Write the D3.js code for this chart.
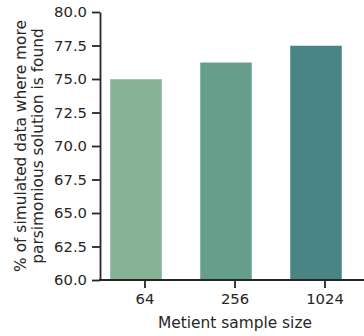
<!DOCTYPE html>
<html lang="en">
<head>
<meta charset="UTF-8">
<title>Metient sample size</title>
<script src="https://cdnjs.cloudflare.com/ajax/libs/d3/7.8.5/d3.min.js"></script>
<style>
body { margin: 0; background: #fff; }
text { font-family: "DejaVu Sans", sans-serif; fill: #262626; }
</style>
</head>
<body>
<script>
// data
var sizes = ["64", "256", "1024"];
var percents = [75.0, 76.25, 77.5];
var barColors = ["#86b396", "#659f8c", "#4a8585"];
var yTicks = [60, 62.5, 65, 67.5, 70, 72.5, 75, 77.5, 80];

var W = 364, H = 336;
var svg = d3.select("body").append("svg")
    .attr("width", W).attr("height", H);

var y = d3.scaleLinear().domain([60, 80]).range([280, 12]);
var x = d3.scaleBand().domain(sizes).range([91, 361])
    .paddingInner(0.4222).paddingOuter(0.2111);

// bars
svg.selectAll("rect.bar")
    .data(sizes)
    .enter()
    .append("rect")
    .attr("class", "bar")
    .attr("x", function(d) { return x(d); })
    .attr("width", x.bandwidth())
    .attr("y", function(d, i) { return y(percents[i]); })
    .attr("height", function(d, i) { return y(60) - y(percents[i]); })
    .attr("fill", function(d, i) { return barColors[i]; })
    .attr("stroke", "#ffffff")
    .attr("stroke-opacity", 0.6)
    .attr("stroke-width", 0.8);

// y axis
var yAxis = svg.append("g")
    .attr("transform", "translate(100,0)")
    .call(d3.axisLeft(y).tickValues(yTicks).tickFormat(d3.format(".1f"))
        .tickSize(8).tickPadding(5).tickSizeOuter(0));
yAxis.selectAll("text").style("font-size", "14.8px").attr("fill", "#262626");
yAxis.selectAll("line").attr("stroke", "#262626").attr("stroke-width", 1.8);
yAxis.select(".domain").attr("stroke", "#262626").attr("stroke-width", 1.8);

// x axis (ticks sit a bit right of the bar centres, as in the original)
var xAxis = svg.append("g")
    .attr("transform", "translate(9,280)")
    .call(d3.axisBottom(x).tickSize(8).tickPadding(5).tickSizeOuter(0));
xAxis.select(".domain").remove();
xAxis.selectAll("text").style("font-size", "14.8px").attr("fill", "#262626");
xAxis.selectAll("line").attr("stroke", "#262626").attr("stroke-width", 1.8);

svg.append("line")
    .attr("x1", 99).attr("x2", W)
    .attr("y1", 280).attr("y2", 280)
    .attr("stroke", "#262626").attr("stroke-width", 1.8);

// axis titles
svg.append("text")
    .attr("x", 235).attr("y", 328)
    .attr("text-anchor", "middle")
    .style("font-size", "15.4px")
    .text("Metient sample size");

var yl = svg.append("text")
    .attr("transform", "translate(26,146) rotate(-90)")
    .attr("text-anchor", "middle")
    .style("font-size", "15.4px");
yl.append("tspan").attr("x", 0).attr("y", 0).text("% of simulated data where more");
yl.append("tspan").attr("x", 0).attr("y", 17).text("parsimonious solution is found");
</script>
</body>
</html>
